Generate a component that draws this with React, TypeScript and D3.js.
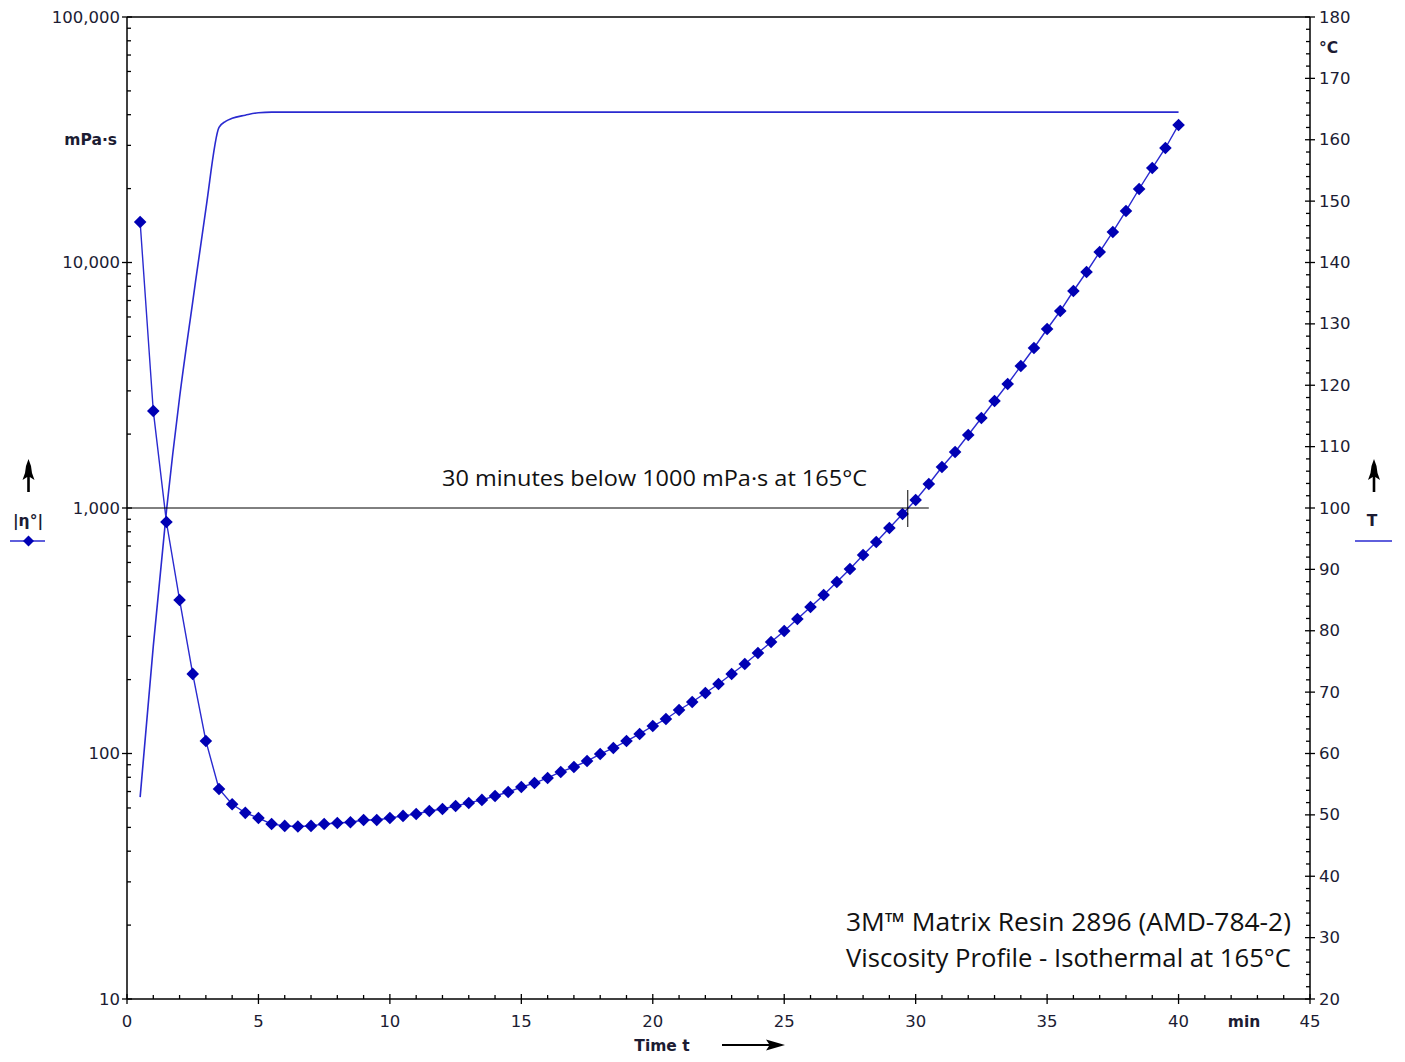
import React from 'react';
import * as d3 from 'd3';

// ---- data ----
const viscTimes = [
  0.5, 1, 1.5, 2, 2.5, 3, 3.5, 4, 4.5, 5, 5.5, 6, 6.5, 7, 7.5, 8, 8.5, 9, 9.5, 10,
  10.5, 11, 11.5, 12, 12.5, 13, 13.5, 14, 14.5, 15, 15.5, 16, 16.5, 17, 17.5, 18, 18.5, 19, 19.5, 20,
  20.5, 21, 21.5, 22, 22.5, 23, 23.5, 24, 24.5, 25, 25.5, 26, 26.5, 27, 27.5, 28, 28.5, 29, 29.5, 30,
  30.5, 31, 31.5, 32, 32.5, 33, 33.5, 34, 34.5, 35, 35.5, 36, 36.5, 37, 37.5, 38, 38.5, 39, 39.5, 40,
];
const viscosity = [
  14620, 2485, 877, 422, 211, 112.5, 71.7, 62.1, 57.3, 54.6, 51.6, 50.7, 50.4, 50.7, 51.6, 52.1, 52.5, 53.6, 53.6, 54.6,
  55.7, 56.7, 58.3, 59.4, 61.1, 62.9, 64.7, 67.1, 69.7, 73.0, 75.8, 79.5, 84.1, 88.1, 93.2, 99.5, 105.3, 112.4, 120.1, 129.4,
  138.2, 150.4, 162.1, 176.4, 191.9, 210.8, 231.5, 256.7, 284.6, 315.5, 353.1, 395.1, 442.2, 499.5, 564.3, 643.5, 726.9, 828.7, 945.4, 1078,
  1253, 1469, 1691, 1984, 2326, 2728, 3200, 3787, 4484, 5358, 6343, 7654, 9148, 11036, 13313, 16212, 19927, 24260, 29269, 36324,
];
const tempTimes = [0.5, 1, 1.5, 2, 2.5, 3, 3.5, 3.75, 4, 4.5, 5, 5.5, 40];
const temperature = [52.9, 77.5, 99.5, 118.0, 133.6, 148.7, 162.0, 163.0, 163.5, 164.0, 164.4, 164.5, 164.5];

const xTicks = [0, 5, 10, 15, 20, 25, 30, 35, 40, 45];
const yTicks = [10, 100, 1000, 10000, 100000];
const tTicks = [20, 30, 40, 50, 60, 70, 80, 90, 100, 110, 120, 130, 140, 150, 160, 170, 180];
const refLevel = 1000;
const refTime = 29.7;
const refEnd = 30.5;
const annotation = '30 minutes below 1000 mPa·s at 165°C';
const titleLines = ['3M™ Matrix Resin 2896 (AMD-784-2)', 'Viscosity Profile - Isothermal at 165°C'];

const W = 1405;
const H = 1062;
const L = 127, R = 1310, T = 17, B = 999;

const BLUE_MARK = '#0000b4';
const BLUE_LINE = '#2a2ad0';
const TXT = '#1c1c33';
const tickFont = "'DejaVu Sans', Verdana, sans-serif";
const calFont = "'Open Sans', 'Noto Sans', sans-serif";

function UpArrow({ x, y }: { x: number; y: number }) {
  // tip at (x,y)
  const d = `M${x},${y} L${x + 2.5},${y + 7} L${x + 3.5},${y + 14} L${x + 6},${y + 21} L${x + 1.3},${y + 18} L${x + 1.3},${y + 33} L${x - 1.3},${y + 33} L${x - 1.3},${y + 18} L${x - 6},${y + 21} L${x - 3.5},${y + 14} L${x - 2.5},${y + 7} Z`;
  return <path d={d} fill="#000" />;
}

export default function App() {
  const x = d3.scaleLinear().domain([0, 45]).range([L, R]);
  const y = d3.scaleLog().domain([10, 100000]).range([B, T]);
  const yT = d3.scaleLinear().domain([20, 180]).range([B, T]);

  const viscPts = viscTimes.map((t, i) => [t, viscosity[i]] as [number, number]);
  const tempPts = tempTimes.map((t, i) => [t, temperature[i]] as [number, number]);

  const viscLine = d3.line<[number, number]>().x((d) => x(d[0])).y((d) => y(d[1]))(viscPts) || '';
  const tempLine =
    d3.line<[number, number]>().x((d) => x(d[0])).y((d) => yT(d[1])).curve(d3.curveMonotoneX)(tempPts) || '';

  // minor ticks
  const minorY: number[] = [];
  for (let dec = 10; dec < 100000; dec *= 10) {
    for (let m = 2; m <= 9; m++) minorY.push(dec * m);
  }
  const minorX = d3.range(0, 46, 1).filter((v) => v % 5 !== 0);
  const minorT = d3.range(20, 181, 2).filter((v) => v % 10 !== 0);

  const diamond = (cx: number, cy: number, r = 6) =>
    `M${cx},${cy - r} L${cx + r},${cy} L${cx},${cy + r} L${cx - r},${cy} Z`;

  return (
    <svg width={W} height={H} style={{ position: 'absolute', left: 0, top: 0, background: '#fff' }}>
      <rect x={0} y={0} width={W} height={H} fill="#fff" />

      {/* frame */}
      <g stroke="#000" strokeWidth={1.5} fill="none">
        <line x1={L} y1={T} x2={R} y2={T} />
        <line x1={L} y1={T} x2={L} y2={B} />
        <line x1={R} y1={T} x2={R} y2={B} />
        <line x1={L} y1={B} x2={R} y2={B} />
      </g>

      {/* ticks */}
      <g stroke="#000" strokeWidth={1.3}>
        {yTicks.map((v) => (
          <line key={'ly' + v} x1={L - 5} x2={L + 5} y1={y(v)} y2={y(v)} />
        ))}
        {minorY.map((v) => (
          <line key={'lmy' + v} x1={L} x2={L + 4} y1={y(v)} y2={y(v)} />
        ))}
        {xTicks.map((v) => (
          <line key={'bx' + v} x1={x(v)} x2={x(v)} y1={B - 5} y2={B + 5} />
        ))}
        {minorX.map((v) => (
          <line key={'bmx' + v} x1={x(v)} x2={x(v)} y1={B - 4} y2={B} />
        ))}
        {tTicks.map((v) => (
          <line key={'rt' + v} x1={R - 5} x2={R + 5} y1={yT(v)} y2={yT(v)} />
        ))}
        {minorT.map((v) => (
          <line key={'rmt' + v} x1={R - 4} x2={R} y1={yT(v)} y2={yT(v)} />
        ))}
      </g>

      {/* tick labels */}
      <g fontFamily={tickFont} fontSize={16.5} fill={TXT}>
        {yTicks.map((v) => (
          <text key={'lyl' + v} x={L - 7} y={y(v)} textAnchor="end" dominantBaseline="central">
            {d3.format(',')(v)}
          </text>
        ))}
        {xTicks.map((v) => (
          <text key={'bxl' + v} x={x(v)} y={1027} textAnchor="middle">
            {v}
          </text>
        ))}
        {tTicks.map((v) => (
          <text key={'rtl' + v} x={R + 9} y={yT(v)} dominantBaseline="central">
            {v}
          </text>
        ))}
      </g>

      {/* unit / axis titles */}
      <g fontFamily={tickFont} fontSize={15.5} fontWeight="bold" fill={TXT}>
        <text x={117} y={140} textAnchor="end" dominantBaseline="central">mPa·s</text>
        <text x={1319} y={48} dominantBaseline="central">°C</text>
        <text x={1244} y={1027} textAnchor="middle">min</text>
        <text x={662} y={1051} textAnchor="middle">Time t</text>
        <text x={28} y={521} textAnchor="middle" dominantBaseline="central">|η°|</text>
        <text x={1372} y={521} textAnchor="middle" dominantBaseline="central">T</text>
      </g>

      {/* axis arrows */}
      <UpArrow x={28.5} y={459} />
      <UpArrow x={1374} y={459} />
      <g>
        <line x1={722} x2={770} y1={1045} y2={1045} stroke="#000" strokeWidth={2} />
        <path d="M785,1045 L766,1039.5 L769,1044 L769,1046 L766,1050.5 Z" fill="#000" />
      </g>

      {/* legends */}
      <line x1={10} x2={45} y1={541} y2={541} stroke={BLUE_LINE} strokeWidth={1.6} />
      <path d={diamond(28.5, 541, 5.5)} fill={BLUE_MARK} />
      <line x1={1355} x2={1392} y1={541} y2={541} stroke={BLUE_LINE} strokeWidth={1.6} />

      {/* temperature curve */}
      <path d={tempLine} fill="none" stroke={BLUE_LINE} strokeWidth={1.6} />

      {/* viscosity curve */}
      <path d={viscLine} fill="none" stroke={BLUE_LINE} strokeWidth={1.4} />
      {viscPts.map((d, i) => (
        <path key={'m' + i} d={diamond(x(d[0]), y(d[1]), 6.3)} fill={BLUE_MARK} />
      ))}

      {/* reference lines */}
      <g stroke="#000" strokeWidth={1}>
        <line x1={L} x2={x(refEnd)} y1={y(refLevel)} y2={y(refLevel)} />
        <line x1={x(refTime)} x2={x(refTime)} y1={y(refLevel) - 18} y2={y(refLevel) + 19} />
      </g>

      {/* annotations */}
      <text x={442} y={486} fontFamily={calFont} fontSize={22} fill="#111" textLength={425} lengthAdjust="spacingAndGlyphs">
        {annotation}
      </text>
      <text x={846} y={931} fontFamily={calFont} fontSize={25.5} fill="#111" textLength={445} lengthAdjust="spacingAndGlyphs">
        {titleLines[0]}
      </text>
      <text x={846} y={967} fontFamily={calFont} fontSize={25.5} fill="#111" textLength={445} lengthAdjust="spacingAndGlyphs">
        {titleLines[1]}
      </text>
    </svg>
  );
}
